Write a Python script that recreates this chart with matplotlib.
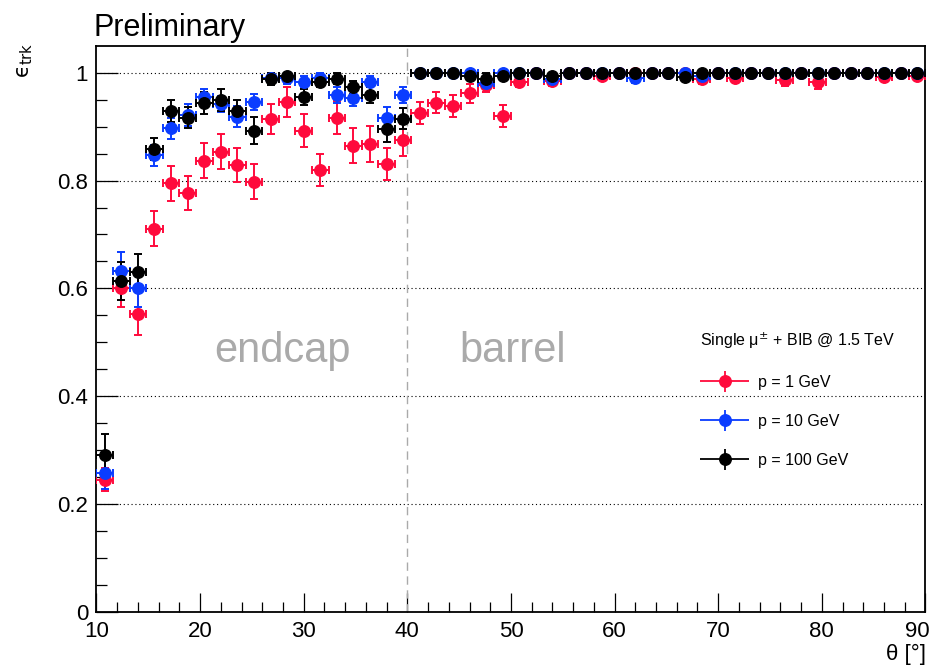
import numpy as np
import matplotlib
matplotlib.use('Agg')
import matplotlib.pyplot as plt
from matplotlib.ticker import MultipleLocator
from matplotlib.legend_handler import HandlerErrorbar
from matplotlib.container import ErrorbarContainer

plt.rcParams['font.family'] = 'Liberation Sans'

# bin centres in theta [deg], bin width 1.6
theta = [10.8, 12.4, 14.0, 15.6, 17.2, 18.8, 20.4, 22.0, 23.6, 25.2,
         26.8, 28.4, 30.0, 31.6, 33.2, 34.8, 36.4, 38.0, 39.6, 41.2,
         42.8, 44.4, 46.0, 47.6, 49.2, 50.8, 52.4, 54.0, 55.6, 57.2,
         58.8, 60.4, 62.0, 63.6, 65.2, 66.8, 68.4, 70.0, 71.6, 73.2,
         74.8, 76.4, 78.0, 79.6, 81.2, 82.8, 84.4, 86.0, 87.6, 89.2]
half_bin = 0.8

x_ticks = [10, 20, 30, 40, 50, 60, 70, 80, 90]
x_ticklabels = ['10', '20', '30', '40', '50', '60', '70', '80', '90']
y_ticks = [0, 0.2, 0.4, 0.6, 0.8, 1.0]
y_ticklabels = ['0', '0.2', '0.4', '0.6', '0.8', '1']

# p = 1 GeV
eff_1 = [0.245, 0.600, 0.553, 0.711, 0.795, 0.777, 0.837, 0.854, 0.829, 0.798,
         0.915, 0.946, 0.893, 0.820, 0.917, 0.865, 0.868, 0.831, 0.876, 0.926,
         0.945, 0.939, 0.962, 0.977, 0.920, 0.983, 1.000, 0.985, 1.000, 1.000,
         0.994, 1.000, 1.000, 1.000, 1.000, 1.000, 0.988, 1.000, 0.991, 1.000,
         1.000, 0.987, 1.000, 0.983, 1.000, 1.000, 1.000, 0.993, 1.000, 0.994]
err_1 = [0.022, 0.035, 0.040, 0.032, 0.032, 0.032, 0.032, 0.032, 0.032, 0.032,
         0.028, 0.028, 0.030, 0.030, 0.030, 0.033, 0.033, 0.030, 0.030, 0.020,
         0.020, 0.020, 0.017, 0.012, 0.020, 0.010, 0.003, 0.010, 0.003, 0.003,
         0.006, 0.003, 0.003, 0.003, 0.003, 0.003, 0.008, 0.003, 0.006, 0.003,
         0.003, 0.012, 0.003, 0.012, 0.003, 0.003, 0.003, 0.006, 0.003, 0.006]

# p = 10 GeV
eff_10 = [0.258, 0.633, 0.600, 0.847, 0.897, 0.922, 0.956, 0.942, 0.919, 0.946,
          0.990, 0.990, 0.984, 0.990, 0.959, 0.953, 0.984, 0.917, 0.959, 1.000,
          1.000, 1.000, 1.000, 0.981, 1.000, 1.000, 1.000, 0.988, 1.000, 1.000,
          1.000, 1.000, 0.990, 1.000, 1.000, 1.000, 0.995, 1.000, 1.000, 1.000,
          1.000, 1.000, 1.000, 1.000, 1.000, 1.000, 1.000, 1.000, 1.000, 1.000]
err_10 = [0.030, 0.035, 0.035, 0.020, 0.020, 0.020, 0.015, 0.015, 0.020, 0.015,
          0.010, 0.010, 0.010, 0.010, 0.015, 0.015, 0.010, 0.020, 0.015, 0.003,
          0.003, 0.003, 0.003, 0.010, 0.003, 0.003, 0.003, 0.008, 0.003, 0.003,
          0.003, 0.003, 0.008, 0.003, 0.003, 0.003, 0.005, 0.003, 0.003, 0.003,
          0.003, 0.003, 0.003, 0.003, 0.003, 0.003, 0.003, 0.003, 0.003, 0.003]

# p = 100 GeV
eff_100 = [0.291, 0.614, 0.631, 0.859, 0.929, 0.917, 0.944, 0.950, 0.930, 0.893,
           0.989, 0.995, 0.956, 0.984, 0.989, 0.973, 0.959, 0.896, 0.915, 1.000,
           1.000, 1.000, 0.995, 0.989, 0.995, 1.000, 1.000, 0.995, 1.000, 1.000,
           1.000, 1.000, 1.000, 1.000, 1.000, 0.993, 1.000, 1.000, 1.000, 1.000,
           1.000, 1.000, 1.000, 1.000, 1.000, 1.000, 1.000, 1.000, 1.000, 1.000]
err_100 = [0.038, 0.035, 0.033, 0.020, 0.020, 0.020, 0.020, 0.020, 0.020, 0.025,
           0.012, 0.010, 0.015, 0.010, 0.010, 0.012, 0.015, 0.025, 0.020, 0.003,
           0.003, 0.003, 0.005, 0.010, 0.005, 0.003, 0.003, 0.005, 0.003, 0.003,
           0.003, 0.003, 0.003, 0.003, 0.003, 0.006, 0.003, 0.003, 0.003, 0.003,
           0.003, 0.003, 0.003, 0.003, 0.003, 0.003, 0.003, 0.003, 0.003, 0.003]

series = [
    (eff_1, err_1, '#ff0a3c', 'p = 1 GeV'),
    (eff_10, err_10, '#0a3cff', 'p = 10 GeV'),
    (eff_100, err_100, 'black', 'p = 100 GeV'),
]

fig = plt.figure(figsize=(9.32, 6.67), dpi=100)
ax = fig.add_axes([0.1035, 0.0832, 0.8895, 0.8471])

ax.set_xlim(10, 90)
ax.set_ylim(0, 1.049)

ax.yaxis.grid(True, which='major', color='black', linestyle=(0, (1, 2.5)), linewidth=0.8)
ax.set_axisbelow(True)

ax.axvline(40, color='#aaaaaa', linewidth=1.0, dashes=(6, 4))

handles = []
for eff, err, col, lab in series:
    eff = np.array(eff)
    err = np.array(err)
    up = np.minimum(err, 1 - eff)
    ax.errorbar(theta, eff, xerr=half_bin, yerr=[err, up], fmt='o', color=col,
                ms=8.3, elinewidth=1.4, capsize=2.8, capthick=1.4, zorder=3)
    # legend proxy without caps
    h = ax.errorbar([np.nan], [np.nan], xerr=[1], yerr=[1], fmt='o', color=col,
                    ms=8.3, elinewidth=1.3, capsize=0, label=lab)
    handles.append(h)

leg = ax.legend(handles=handles, loc='upper left', bbox_to_anchor=(0.728, 0.497),
                frameon=False, fontsize=11.5, title='Single μ$^{\\pm}$ + BIB @ 1.5 TeV',
                title_fontsize=11.5, alignment='left', borderpad=0, borderaxespad=0,
                handlelength=3.1, handletextpad=0.55, labelspacing=1.5,
                handler_map={ErrorbarContainer: HandlerErrorbar(xerr_size=1.55, yerr_size=0.65)})

ax.text(28.0, 0.463, 'endcap', color='#aaaaaa', fontsize=30, ha='center', va='baseline')
ax.text(50.2, 0.463, 'barrel', color='#aaaaaa', fontsize=30, ha='center', va='baseline')

# last x label is pulled inside the canvas, as in the original
ax.set_xticks(x_ticks, labels=x_ticklabels[:-1] + [''])
ax.annotate(x_ticklabels[-1], xy=(x_ticks[-1], 0), xycoords=('data', 'axes fraction'),
            xytext=(3, -7), textcoords='offset points', ha='right', va='top', fontsize=16)
ax.xaxis.set_minor_locator(MultipleLocator(2))
ax.set_yticks(y_ticks, labels=y_ticklabels)
ax.yaxis.set_minor_locator(MultipleLocator(0.05))

ax.tick_params(axis='both', which='both', direction='in', top=False, right=False,
               labelsize=16, width=0.9, color='black')
ax.tick_params(axis='y', which='major', length=16, pad=6)
ax.tick_params(axis='y', which='minor', length=8)
ax.tick_params(axis='x', which='major', length=14, pad=7)
ax.tick_params(axis='x', which='minor', length=7)

for sp in ax.spines.values():
    sp.set_linewidth(1.3)

fig.text(93 / 932, 1 - 36 / 667, 'Preliminary', fontsize=22, ha='left', va='baseline')
fig.text(25 / 932, 1 - 60 / 667, 'ϵ$_{\\mathrm{trk}}$', fontsize=15, family='DejaVu Sans',
         rotation=90, ha='center', va='center')
fig.text(926 / 932, 1 - 660 / 667, 'θ [°]', fontsize=16, ha='right', va='baseline')

fig.savefig('out.png', dpi=100)
